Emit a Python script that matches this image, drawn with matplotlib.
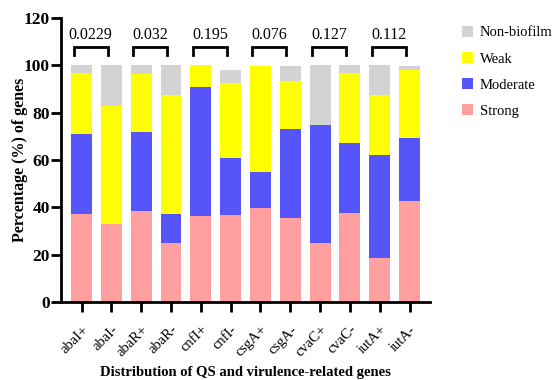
import matplotlib
matplotlib.use('Agg')
import matplotlib.pyplot as plt
import numpy as np

plt.rcParams['font.family'] = ['Liberation Serif', 'DejaVu Serif']

genes = ['abaI+', 'abaI-', 'abaR+', 'abaR-', 'cnfI+', 'cnfI-',
         'csgA+', 'csgA-', 'cvaC+', 'cvaC-', 'iutA+', 'iutA-']

# percentages per biofilm category
strong = [37.4, 33.1, 38.5, 25.0, 36.4, 36.7, 39.8, 35.5, 25.0, 37.6, 18.7, 42.7]
moderate = [33.6, 0.0, 33.3, 12.4, 54.4, 24.1, 15.1, 37.5, 49.7, 29.6, 43.4, 26.6]
weak = [25.7, 49.9, 24.4, 49.9, 9.2, 31.5, 44.7, 20.3, 0.0, 29.5, 25.3, 28.6]
nonbiofilm = [3.3, 17.0, 3.8, 12.7, 0.0, 5.6, 0.0, 6.4, 25.3, 3.3, 12.6, 1.7]

p_values = ['0.0229', '0.032', '0.195', '0.076', '0.127', '0.112']

col_strong = '#FF9F9F'
col_moderate = '#5555FA'
col_weak = '#FFFF00'
col_non = '#D3D3D3'

fig = plt.figure(figsize=(5.55, 3.8), dpi=100)
ax = fig.add_axes([0.110, 0.205, 0.665, 0.748])

x = np.arange(len(genes))
w = 0.70
s = np.array(strong)
m = np.array(moderate)
wk = np.array(weak)
n = np.array(nonbiofilm)

ax.bar(x, s, w, color=col_strong, label='Strong')
ax.bar(x, m, w, bottom=s, color=col_moderate, label='Moderate')
ax.bar(x, wk, w, bottom=s + m, color=col_weak, label='Weak')
ax.bar(x, n, w, bottom=s + m + wk, color=col_non, label='Non-biofilm')

# brackets with p-values over each pair
for k, p in enumerate(p_values):
    c = 2 * k + 0.5 - 0.2
    x0, x1 = c - 0.57, c + 0.57
    ax.plot([x0, x0, x1, x1], [104.4, 107.9, 107.9, 104.4], color='black',
            lw=2, solid_joinstyle='miter', clip_on=False)
    ax.text(c, 109.3, p, ha='center', va='bottom', fontsize=11.5)

ax.set_xlim(-0.69, 11.69)
ax.set_ylim(0, 120)
ax.set_yticks([0, 20, 40, 60, 80, 100, 120])
ax.set_xticks(x)
ax.set_xticklabels(genes, rotation=45, ha='right', rotation_mode='anchor', fontsize=10.5)
for lbl in ax.get_yticklabels():
    lbl.set_fontweight('bold')
    lbl.set_fontsize(12.5)

ax.spines['top'].set_visible(False)
ax.spines['right'].set_visible(False)
ax.spines['left'].set_linewidth(2)
ax.spines['bottom'].set_linewidth(2)
ax.tick_params(axis='both', width=2, length=7)
ax.tick_params(axis='y', pad=1)
ax.tick_params(axis='x', pad=8)

ax.set_ylabel('Percentage (%) of genes', fontweight='bold', fontsize=11.5, labelpad=-3)
ax.set_xlabel('Distribution of QS and virulence-related genes', fontweight='bold',
              fontsize=10.5, labelpad=5)

handles, labels = ax.get_legend_handles_labels()
ax.legend(handles[::-1], labels[::-1], loc='upper left',
          bbox_to_anchor=(0.832, 0.932), bbox_transform=fig.transFigure,
          frameon=False, fontsize=10.5, handlelength=0.8, handleheight=0.8,
          labelspacing=0.85, handletextpad=0.45, borderaxespad=0, borderpad=0)

fig.savefig('out.png', dpi=100)
